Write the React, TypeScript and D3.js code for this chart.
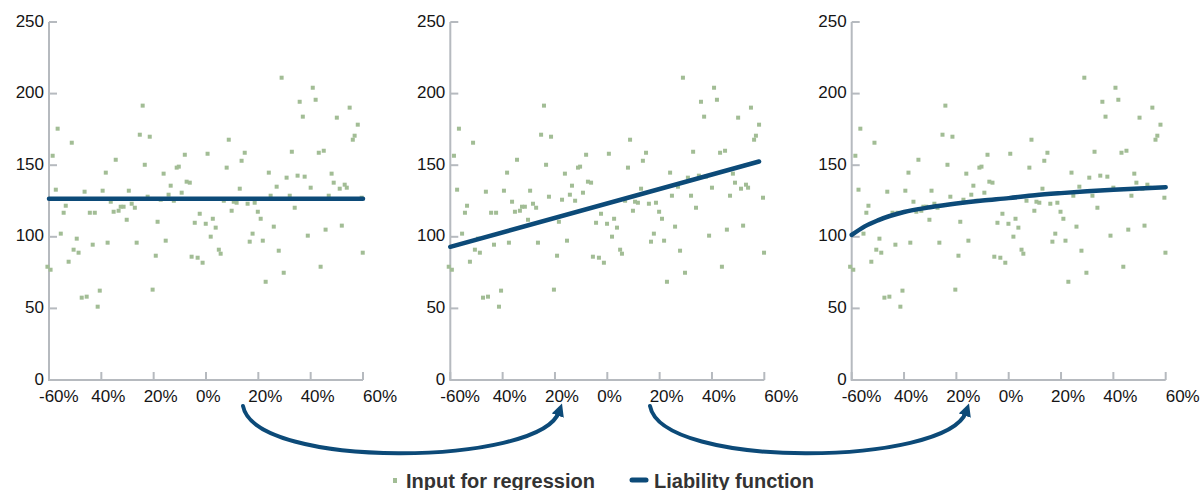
import React from "react";
import * as d3 from "d3";

// Observations used as regression input (x in %, y in value units)
const pointX = [
  -58.6, -57.4, -56.7, -51.3, -46.4, -39.5, -38.3, -34.5, -29.5, -25.3,
  -24.2, -23.4, -21.5, -22.3, -16.2, -13.5, -14.3, -11.2, -10.4, -9.3,
  -8.1, -7.4, -6.2, 0.6, 7.9, 8.7, 12.9, 13.6, 14.8, 24.0,
  24.7, 27.0, 28.9, 30.8, 32.0, 32.8, 35.0, 35.8, 37.0, 37.7,
  40.0, 40.8, 41.9, 43.1, 45.0, 46.9, 48.0, 48.8, 50.0, 51.1,
  53.0, 53.8, 54.9, 56.1, 56.8, 58.0, 59.5,
  -60.6, -59.4, -55.5, -54.4, -53.6, -52.5, -50.6, -49.4, -48.7, -47.5,
  -45.6, -44.4, -43.3, -42.5, -41.4, -40.6, -37.6, -36.4, -35.3, -33.4,
  -32.6, -31.5, -30.3, -28.4, -27.2, -26.5, -20.4, -18.5, -19.2, -17.3,
  -15.4, -12.3, -5.5, -4.3, -3.2, -2.4, -1.3, -0.1, 1.8, 2.6,
  3.7, 4.9, 5.6, 6.8, 9.8, 10.6, 11.7, 15.9, 16.7, 17.8,
  18.6, 19.8, 20.9, 21.7, 22.8, 25.9, 27.8, 29.7, 33.9, 38.9,
  43.8, 45.7, 51.9, 59.9,
];
const pointY = [
  156.6, 132.9, 175.5, 165.7, 131.5, 132.2, 144.8, 153.8, 132.2, 171.3,
  191.6, 150.3, 169.9, 128.0, 144.1, 135.7, 129.4, 148.3, 149.0, 130.8,
  157.3, 138.5, 137.8, 158.0, 148.3, 167.8, 133.6, 153.1, 158.7, 144.8,
  128.7, 135.0, 211.1, 141.3, 128.7, 159.4, 142.7, 194.3, 183.9, 142.0,
  134.3, 204.1, 195.7, 158.7, 160.1, 128.7, 144.1, 137.8, 183.2, 133.6,
  136.4, 134.3, 190.2, 167.8, 170.6, 178.3, 127.3,
  79.1, 77.0, 102.2, 116.8, 121.7, 82.6, 91.0, 98.7, 88.9, 57.5,
  58.2, 116.8, 94.5, 116.8, 51.2, 62.4, 95.9, 124.5, 117.5, 118.2,
  121.0, 121.0, 111.9, 123.1, 120.3, 95.9, 63.1, 110.5, 86.8, 125.9,
  97.3, 125.2, 86.1, 109.8, 85.4, 116.1, 81.9, 109.1, 100.1, 112.6,
  106.4, 91.0, 88.2, 125.2, 118.2, 124.5, 123.8, 123.1, 96.6, 102.2,
  123.8, 117.5, 112.6, 97.3, 68.6, 107.1, 90.3, 74.9, 120.3, 100.8,
  79.1, 105.0, 107.8, 88.9,
];

// Liability functions: constant, linear, concave
const flatX = [-60, 60];
const flatY = [126.6, 126.6];
const linearX = [-60, 58];
const linearY = [93.0, 152.6];
const curveX = [-60, -55, -50, -40, -30, -20, -10, 0, 10, 20, 30, 40, 50, 60];
const curveY = [101.3, 107.3, 111.5, 117.3, 120.6, 123.2, 125.3, 127.0, 129.0, 130.5, 131.8, 132.9, 133.8, 134.6];

const xTicks = [-60, -40, -20, 0, 20, 40, 60];
const xTickLabels = ["-60%", "40%", "20%", "0%", "20%", "40%", "60%"];
const yTicks = [0, 50, 100, 150, 200, 250];

const legendLabels = ["Input for regression", "Liability function"];

const GREEN = "#a2bd95";
const NAVY = "#0c4a78";
const AXIS = "#b6babf";
const FONT = "'Liberation Sans', Arial, Helvetica, sans-serif";

const PANEL_W = 314;
const TOP = 22;
const BOTTOM = 380;
const panelLefts = [49, 450.3, 851.7];

const lines = [
  { xs: flatX, ys: flatY, curve: d3.curveLinear },
  { xs: linearX, ys: linearY, curve: d3.curveLinear },
  { xs: curveX, ys: curveY, curve: d3.curveMonotoneX },
];

function Panel({ left, line }: { left: number; line: (typeof lines)[number] }) {
  const x = d3.scaleLinear().domain([-60, 60]).range([left, left + PANEL_W]);
  const y = d3.scaleLinear().domain([0, 250]).range([BOTTOM, TOP]);
  const path = d3
    .line<number>()
    .x((_, i) => x(line.xs[i]))
    .y((_, i) => y(line.ys[i]))
    .curve(line.curve)(line.xs);
  const last = xTicks.length - 1;
  return (
    <g>
      {/* axes */}
      <path
        d={`M${left},${TOP}V${BOTTOM}H${left + PANEL_W}`}
        fill="none"
        stroke={AXIS}
        strokeWidth={2}
      />
      {yTicks.map((t) => (
        <g key={`y${t}`}>
          <line x1={left} x2={left + 8} y1={y(t)} y2={y(t)} stroke={AXIS} strokeWidth={2} />
          <text
            x={left - 5}
            y={y(t) - 1}
            textAnchor="end"
            dominantBaseline="central"
            fontFamily={FONT}
            fontSize={17}
            fill="#151515"
          >
            {t}
          </text>
        </g>
      ))}
      {xTicks.map((t, i) => (
        <g key={`x${t}`}>
          <line x1={x(t)} x2={x(t)} y1={BOTTOM} y2={BOTTOM - 8} stroke={AXIS} strokeWidth={2} />
          <text
            x={i === last ? x(t) : x(t) - 10}
            y={402}
            textAnchor="start"
            fontFamily={FONT}
            fontSize={17}
            fill="#151515"
          >
            {xTickLabels[i]}
          </text>
        </g>
      ))}
      {/* observations */}
      {pointX.map((px, i) => (
        <rect
          key={i}
          x={x(px) - 2}
          y={y(pointY[i]) - 2}
          width={4}
          height={4}
          fill={GREEN}
        />
      ))}
      {/* fitted liability function */}
      <path
        d={path ?? ""}
        fill="none"
        stroke={NAVY}
        strokeWidth={4.5}
        strokeLinecap="round"
        strokeLinejoin="round"
      />
    </g>
  );
}

export default function App() {
  const arrows = [
    "M243,406 C255,470 540,466 559,412",
    "M650,406 C662,470 947,466 966,412",
  ];
  return (
    <svg
      width={1200}
      height={490}
      viewBox="0 0 1200 490"
      style={{ position: "absolute", left: 0, top: 0, display: "block", background: "#fff" }}
    >
      <defs>
        <marker
          id="arrowHead"
          viewBox="0 0 10 10"
          refX={3}
          refY={5}
          markerWidth={3.2}
          markerHeight={3.2}
          orient="auto"
          markerUnits="strokeWidth"
        >
          <path d="M0,0 L10,5 L0,10 Z" fill={NAVY} />
        </marker>
      </defs>
      {panelLefts.map((left, i) => (
        <Panel key={i} left={left} line={lines[i]} />
      ))}
      {arrows.map((d, i) => (
        <path
          key={i}
          d={d}
          fill="none"
          stroke={NAVY}
          strokeWidth={4}
          strokeLinecap="round"
          markerEnd="url(#arrowHead)"
        />
      ))}
      {/* legend */}
      <rect x={393} y={478} width={4} height={5} fill={GREEN} />
      <text x={406} y={488} fontFamily={FONT} fontSize={20} fontWeight="bold" fill="#333">
        {legendLabels[0]}
      </text>
      <line x1={632} x2={646} y1={480} y2={480} stroke={NAVY} strokeWidth={5} strokeLinecap="round" />
      <text x={654} y={488} fontFamily={FONT} fontSize={20} fontWeight="bold" fill="#333">
        {legendLabels[1]}
      </text>
    </svg>
  );
}
